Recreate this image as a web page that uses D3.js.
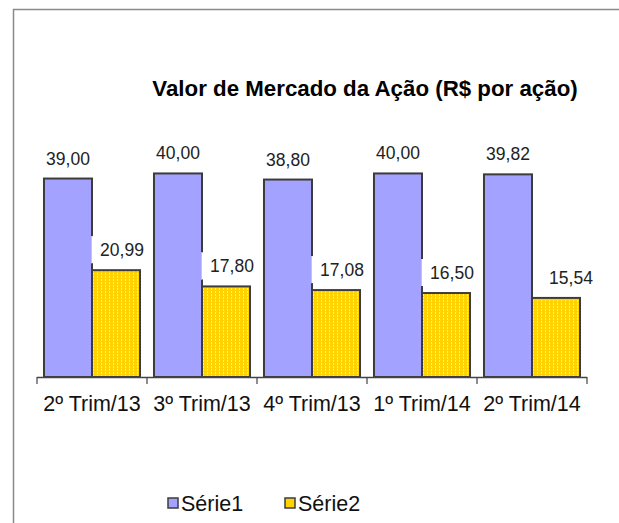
<!DOCTYPE html>
<html>
<head>
<meta charset="utf-8">
<script src="https://cdn.jsdelivr.net/npm/d3@7"></script>
<style>
  body { margin: 0; background: #fff; overflow: hidden; }
  svg { display: block; font-family: Arial, "Liberation Sans", sans-serif; }
</style>
</head>
<body>
<div id="chart"></div>
<script>
// Chart data
const categories = ['2º Trim/13', '3º Trim/13', '4º Trim/13', '1º Trim/14', '2º Trim/14'];
const serie1 = [39.00, 40.00, 38.80, 40.00, 39.82];
const serie2 = [20.99, 17.80, 17.08, 16.50, 15.54];
const seriesNames = ['Série1', 'Série2'];
const title = 'Valor de Mercado da Ação (R$ por ação)';

const width = 619, height = 523;
const colors = { s1: '#a3a3ff', s2: '#ffd200', stroke: '#3c3c3c' };

const fmt = v => v.toFixed(2).replace('.', ',');

const svg = d3.select('#chart')
  .append('svg')
  .attr('width', width)
  .attr('height', height);

// Dotted fill for Série2 (like Excel pattern)
const defs = svg.append('defs');
const pat = defs.append('pattern')
  .attr('id', 'dots')
  .attr('width', 4)
  .attr('height', 3)
  .attr('patternUnits', 'userSpaceOnUse');
pat.append('rect').attr('width', 4).attr('height', 3).attr('fill', colors.s2);
pat.append('rect').attr('x', 1).attr('y', 0).attr('width', 1).attr('height', 2)
  .attr('fill', '#ffffff').attr('opacity', 0.55);

// Outer frame (runs off the right and bottom edges)
svg.append('rect')
  .attr('x', 13.5).attr('y', 9.5)
  .attr('width', width + 20).attr('height', height + 20)
  .attr('fill', 'none')
  .attr('stroke', '#8a8a8a')
  .attr('stroke-width', 1.5);

// Title
svg.append('text')
  .attr('x', 365).attr('y', 96)
  .attr('text-anchor', 'middle')
  .attr('font-size', 22.3)
  .attr('font-weight', 'bold')
  .text(title);

// Scales
const x0 = d3.scaleBand()
  .domain(categories)
  .range([37, 587])
  .paddingInner(0.127)
  .paddingOuter(0.0635);

const x1 = d3.scaleBand()
  .domain(['s1', 's2'])
  .range([0, x0.bandwidth()]);

const y = d3.scaleLinear()
  .domain([0, 45])
  .range([377, 148]);

const rows = categories.map((c, i) => ({ cat: c, s1: serie1[i], s2: serie2[i] }));

// Bars
const groups = svg.append('g')
  .selectAll('g')
  .data(rows)
  .enter().append('g')
  .attr('transform', d => `translate(${x0(d.cat)},0)`);

groups.append('rect')
  .attr('x', x1('s1'))
  .attr('y', d => y(d.s1))
  .attr('width', x1.bandwidth())
  .attr('height', d => y(0) - y(d.s1))
  .attr('fill', colors.s1)
  .attr('stroke', colors.stroke)
  .attr('stroke-width', 2);

groups.append('rect')
  .attr('x', x1('s2'))
  .attr('y', d => y(d.s2))
  .attr('width', x1.bandwidth())
  .attr('height', d => y(0) - y(d.s2))
  .attr('fill', 'url(#dots)')
  .attr('stroke', colors.stroke)
  .attr('stroke-width', 2);

// Série1 labels
groups.append('text')
  .attr('x', x1('s1') + x1.bandwidth() / 2)
  .attr('y', d => y(d.s1) - 14)
  .attr('text-anchor', 'middle')
  .attr('font-size', 17.5)
  .attr('fill', '#222')
  .text(d => fmt(d.s1));

// Série2 labels, with white label box
const lab2 = groups.append('g')
  .attr('transform', d => `translate(${x1('s2') + x1.bandwidth() / 2 + 6},${y(d.s2) - 20})`);

lab2.filter((d, i) => i < categories.length - 1).append('rect')
  .attr('x', -31).attr('y', -14)
  .attr('width', 60).attr('height', 27)
  .attr('fill', '#fff');
lab2.filter((d, i) => i < categories.length - 1).append('line')
  .attr('x1', -30.5).attr('x2', -30.5)
  .attr('y1', -14).attr('y2', 13)
  .attr('stroke', '#c8c8c8')
  .attr('stroke-width', 1);

lab2.append('text')
  .attr('x', (d, i) => i === categories.length - 1 ? 9 : 0)
  .attr('y', 6)
  .attr('text-anchor', 'middle')
  .attr('font-size', 17.5)
  .attr('fill', '#222')
  .text(d => fmt(d.s2));

// X axis
const axis = svg.append('g');
axis.append('line')
  .attr('x1', 37).attr('x2', 587)
  .attr('y1', 377.5).attr('y2', 377.5)
  .attr('stroke', '#444').attr('stroke-width', 1.5);

const tickX = categories.map(c => x0(c) - x0.step() * x0.paddingInner() / 2)
  .concat([587]);
axis.selectAll('line.tick')
  .data(tickX)
  .enter().append('line')
  .attr('class', 'tick')
  .attr('x1', d => d).attr('x2', d => d)
  .attr('y1', 377).attr('y2', 384)
  .attr('stroke', '#444').attr('stroke-width', 1.2);

axis.selectAll('text')
  .data(categories)
  .enter().append('text')
  .attr('x', d => x0(d) + x0.bandwidth() / 2)
  .attr('y', 411)
  .attr('text-anchor', 'middle')
  .attr('font-size', 21.5)
  .attr('fill', '#111')
  .text(d => d);

// Legend
const legend = svg.append('g');
const legendItems = [
  { name: seriesNames[0], fill: colors.s1, x: 168 },
  { name: seriesNames[1], fill: colors.s2, x: 285 }
];
const li = legend.selectAll('g')
  .data(legendItems)
  .enter().append('g')
  .attr('transform', d => `translate(${d.x},498)`);
li.append('rect')
  .attr('width', 10).attr('height', 10)
  .attr('fill', d => d.fill)
  .attr('stroke', colors.stroke)
  .attr('stroke-width', 1.5);
li.append('text')
  .attr('x', 13).attr('y', 12.5)
  .attr('font-size', 21.5)
  .attr('fill', '#111')
  .text(d => d.name);
</script>
</body>
</html>
